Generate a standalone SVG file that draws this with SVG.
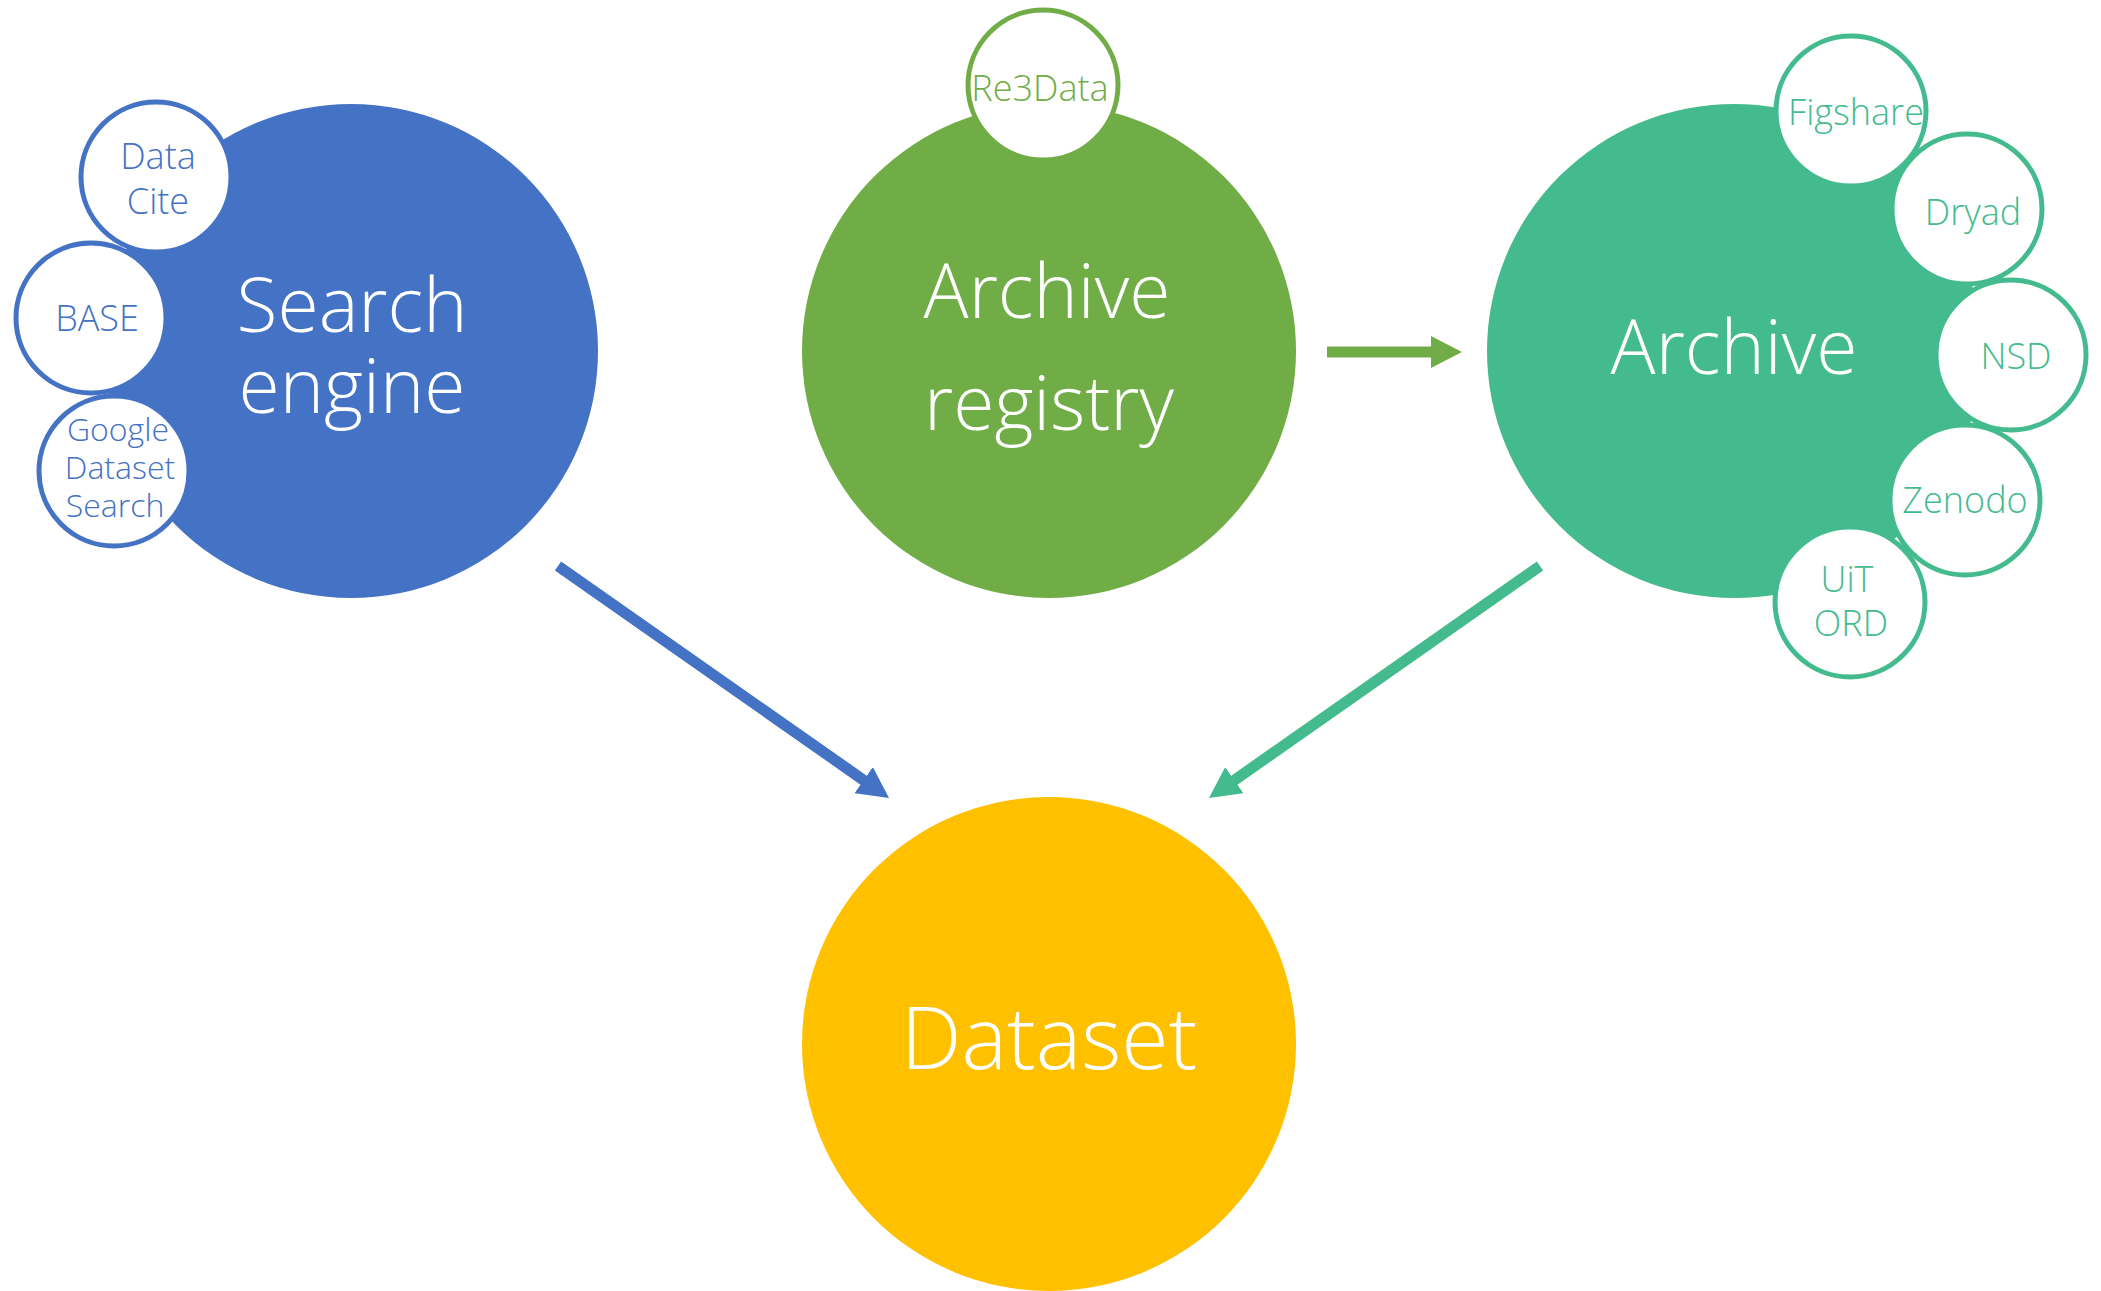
<svg xmlns="http://www.w3.org/2000/svg" width="2101" height="1291" viewBox="0 0 2101 1291">
<style>
text{font-family:"Open Sans","Liberation Sans",sans-serif;font-weight:300;text-anchor:middle}
.big{fill:#fff;font-size:75px}
.ds{fill:#fff;font-size:86px}
.sm{font-size:36px}
.sm2{font-size:32px}
.sub{fill:#fff;stroke-width:5}
.blue .sub{stroke:#4472C4}
.blue .sm,.blue .sm2{fill:#4472C4}
.green .sub{stroke:#70AD47}
.green .sm{fill:#70AD47}
.teal .sub{stroke:#44BB8E}
.teal .sm{fill:#44BB8E}
.conn{fill:none;stroke-width:11}
</style>
<defs>
<marker id="hb" markerUnits="userSpaceOnUse" markerWidth="32" markerHeight="32" refX="3" refY="16" orient="auto" viewBox="0 0 32 32"><path d="M0,0 L31,16 L0,32 z" fill="#4472C4"/></marker>
<marker id="hg" markerUnits="userSpaceOnUse" markerWidth="32" markerHeight="32" refX="3" refY="16" orient="auto" viewBox="0 0 32 32"><path d="M0,0 L31,16 L0,32 z" fill="#70AD47"/></marker>
<marker id="ht" markerUnits="userSpaceOnUse" markerWidth="32" markerHeight="32" refX="3" refY="16" orient="auto" viewBox="0 0 32 32"><path d="M0,0 L31,16 L0,32 z" fill="#44BB8E"/></marker>
</defs>
<rect width="2101" height="1291" fill="#fff"/>

<g id="search-engine" class="blue">
<circle cx="351" cy="351" r="247" fill="#4472C4"/>
<text class="big" x="352" y="332">Search</text>
<text class="big" x="352" y="413">engine</text>
<g id="datacite"><circle class="sub" cx="156" cy="177" r="75"/>
<text class="sm" x="158" y="169">Data</text><text class="sm" x="158" y="214">Cite</text></g>
<g id="base"><circle class="sub" cx="91" cy="318" r="75"/>
<text class="sm" x="97" y="331">BASE</text></g>
<g id="google"><circle class="sub" cx="114" cy="471" r="75"/>
<text class="sm2" x="118" y="441">Google</text><text class="sm2" x="120" y="479">Dataset</text><text class="sm2" x="115" y="517">Search</text></g>
</g>

<g id="archive-registry" class="green">
<circle cx="1049" cy="351" r="247" fill="#70AD47"/>
<text class="big" x="1047" y="318">Archive</text>
<text class="big" x="1049" y="430">registry</text>
<g id="re3data"><circle class="sub" cx="1043" cy="85" r="75"/>
<text class="sm" x="1040" y="101">Re3Data</text></g>
</g>

<g id="archive" class="teal">
<circle cx="1734" cy="351" r="247" fill="#44BB8E"/>
<text class="big" x="1734" y="374">Archive</text>
<g id="figshare"><circle class="sub" cx="1851" cy="111" r="75"/>
<text class="sm" x="1856" y="125">Figshare</text></g>
<g id="dryad"><circle class="sub" cx="1967" cy="209" r="75"/>
<text class="sm" x="1973" y="225">Dryad</text></g>
<g id="nsd"><circle class="sub" cx="2011" cy="355" r="75"/>
<text class="sm" x="2016" y="369">NSD</text></g>
<g id="zenodo"><circle class="sub" cx="1965" cy="500" r="75"/>
<text class="sm" x="1965" y="513">Zenodo</text></g>
<g id="uit-ord"><circle class="sub" cx="1850" cy="602" r="75"/>
<text class="sm" x="1847" y="592">UiT</text><text class="sm" x="1851" y="636">ORD</text></g>
</g>

<g id="dataset">
<circle cx="1049" cy="1044" r="247" fill="#FFC000"/>
<text class="ds" x="1049" y="1069">Dataset</text>
</g>

<g id="connectors">
<path class="conn" stroke="#4472C4" d="M558,566 L866.1,781.9" marker-end="url(#hb)"/>
<path class="conn" stroke="#44BB8E" d="M1540,566 L1231.9,781.9" marker-end="url(#ht)"/>
<path class="conn" stroke="#70AD47" d="M1327,352 L1434,352" marker-end="url(#hg)"/>
</g>
</svg>
